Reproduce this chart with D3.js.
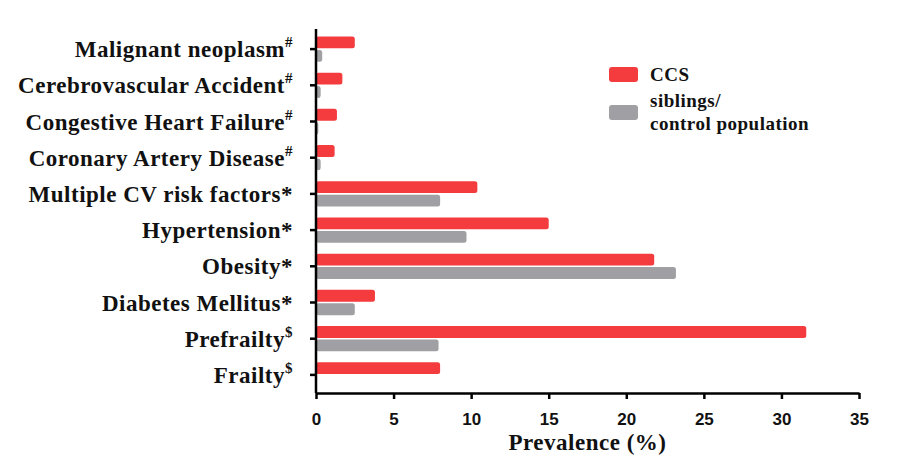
<!DOCTYPE html>
<html>
<head>
<meta charset="utf-8">
<script src="https://cdn.jsdelivr.net/npm/d3@7"></script>
<style>
  body { margin: 0; background: #fff; }
</style>
</head>
<body>
<div id="chart"></div>
<script>
var categories = ["Malignant neoplasm", "Cerebrovascular Accident", "Congestive Heart Failure",
  "Coronary Artery Disease", "Multiple CV risk factors", "Hypertension", "Obesity",
  "Diabetes Mellitus", "Prefrailty", "Frailty"];
var marks = ["#", "#", "#", "#", "*", "*", "*", "*", "$", "$"];
var seriesNames = ["CCS", "siblings/control population"];
var ccsValues = [2.5, 1.7, 1.35, 1.2, 10.4, 15.0, 21.8, 3.8, 31.6, 8.0];
var controlValues = [0.4, 0.3, 0.15, 0.3, 8.0, 9.7, 23.2, 2.5, 7.9, 0];
var xTicks = [0, 5, 10, 15, 20, 25, 30, 35];

var RED = "#f43b3d",
  GRAY = "#a0a0a4";

var SERIF = "'Liberation Serif', 'Times New Roman', serif",
  SANS = "'Liberation Sans', Arial, sans-serif";

var W = 903, H = 467;
var LEFT = 316, RIGHT = 859, TOP = 31, BOTTOM = 393;

var svg = d3.select("#chart")
  .append("svg")
  .attr("width", W)
  .attr("height", H);

var x = d3.scaleLinear().domain([0, 35]).range([LEFT, RIGHT]);

var y = d3.scaleBand()
  .domain(categories)
  .range([TOP, BOTTOM])
  .paddingInner(0.3)
  .paddingOuter(0.15);

var ySub = d3.scaleBand()
  .domain(seriesNames)
  .range([0, y.bandwidth()])
  .paddingInner(0.12);

var colors = d3.scaleOrdinal().domain(seriesNames).range([RED, GRAY]);

var data = categories.map(function(c, i) {
  return [
    { cat: c, series: seriesNames[0], value: ccsValues[i] },
    { cat: c, series: seriesNames[1], value: controlValues[i] }
  ];
});

// bars
var groups = svg.selectAll(".group")
  .data(data)
  .enter()
  .append("g")
  .attr("class", "group");

groups.selectAll("rect")
  .data(function(d) { return d.filter(function(e) { return e.value > 0; }); })
  .enter()
  .append("rect")
  .attr("x", x(0))
  .attr("y", function(d) { return y(d.cat) + ySub(d.series); })
  .attr("width", function(d) { return x(d.value) - x(0); })
  .attr("height", ySub.bandwidth())
  .attr("rx", 2.5)
  .style("fill", function(d) { return colors(d.series); });

// y axis
var yAxis = svg.append("g")
  .attr("transform", "translate(" + LEFT + ",0)")
  .call(d3.axisLeft(y).tickSize(6).tickSizeOuter(0).tickFormat(""));
yAxis.select(".domain").attr("d", "M0," + (TOP - 2) + "V" + BOTTOM);
yAxis.selectAll("path, line").attr("stroke", "#000").attr("stroke-width", 2.5);

// category labels with marks
var labels = svg.selectAll(".cat-label")
  .data(categories)
  .enter()
  .append("text")
  .attr("class", "cat-label")
  .attr("text-anchor", "end")
  .attr("x", 293)
  .attr("y", function(d) { return y(d) + y.bandwidth() / 2 + 8; })
  .style("font-family", SERIF)
  .style("font-weight", "bold")
  .style("font-size", "23px")
  .style("letter-spacing", "0.5px")
  .style("fill", "#111");

labels.append("tspan").text(function(d) { return d; });
labels.append("tspan")
  .text(function(d, i) { return marks[i]; })
  .style("font-size", function(d, i) { return marks[i] == "*" ? "23px" : "15px"; })
  .attr("dy", function(d, i) { return marks[i] == "*" ? 0 : -10; });

// x axis
var xAxis = svg.append("g")
  .attr("transform", "translate(0," + BOTTOM + ")")
  .call(d3.axisBottom(x).tickValues(xTicks).tickSize(6).tickSizeOuter(0).tickFormat(d3.format("d")));
xAxis.selectAll("path, line").attr("stroke", "#000").attr("stroke-width", 2.5);
xAxis.selectAll("text")
  .attr("dy", null)
  .attr("y", 32)
  .style("font-family", SANS)
  .style("font-weight", "bold")
  .style("font-size", "17px")
  .style("fill", "#111");

svg.append("text")
  .attr("text-anchor", "middle")
  .attr("x", (LEFT + RIGHT) / 2)
  .attr("y", 450)
  .style("font-family", SERIF)
  .style("font-weight", "bold")
  .style("font-size", "23px")
  .style("letter-spacing", "0.5px")
  .style("fill", "#111")
  .text("Prevalence (%)");

// legend
var legend = svg.append("g").attr("transform", "translate(609,67)");
legend.append("rect").attr("width", 29).attr("height", 15).attr("rx", 3).style("fill", RED);
legend.append("rect").attr("y", 38).attr("width", 29).attr("height", 15).attr("rx", 3).style("fill", GRAY);

var legendText = legend.selectAll(".legend-label")
  .data([["CCS"], ["siblings/", "control population"]])
  .enter()
  .append("text")
  .attr("class", "legend-label")
  .attr("y", function(d, i) { return i == 0 ? 14 : 40; })
  .style("font-family", SERIF)
  .style("font-weight", "bold")
  .style("font-size", "19px")
  .style("letter-spacing", "0.5px")
  .style("fill", "#111");

legendText.selectAll("tspan")
  .data(function(d) { return d; })
  .enter()
  .append("tspan")
  .attr("x", 41)
  .attr("dy", function(d, i) { return i == 0 ? 0 : 23; })
  .text(function(d) { return d; });
</script>
</body>
</html>
